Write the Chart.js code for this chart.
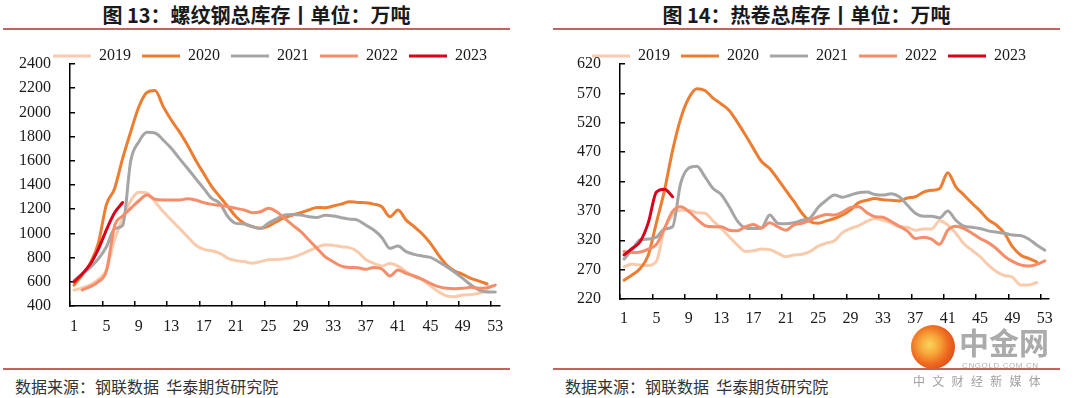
<!DOCTYPE html>
<html>
<head>
<meta charset="utf-8">
<script src="https://cdn.jsdelivr.net/npm/chart.js@4.4.1/dist/chart.umd.min.js"></script>
<style>
  body { margin: 0; width: 1080px; height: 398px; background: #fff; position: relative; overflow: hidden; font-family: "Noto Sans CJK SC", sans-serif; }
  .title { position: absolute; top: 3px; width: 507px; height: 24px; line-height: 24px; font-size: 20px; font-weight: bold; text-align: center; color: #1a1a1a; }
  .rule { position: absolute; width: 507px; height: 2px; background: #C5625E; }
  .source { position: absolute; top: 376px; font-size: 16px; line-height: 20px; color: #333; white-space: pre; }
  canvas { position: absolute; }
  .logo { position: absolute; left: 911px; top: 325px; width: 44px; height: 44px; border-radius: 50%; background: radial-gradient(circle at 42% 45%, #FBD45A 0%, #F6A63A 28%, #EE6A1F 55%, #C9301A 100%); }
  .wm1 { position: absolute; left: 959px; top: 322px; font-size: 30px; font-weight: bold; color: #ABABAB; line-height: 38px; }
  .wm2 { position: absolute; left: 962px; top: 361px; font-family: "Liberation Sans", sans-serif; font-size: 8px; letter-spacing: 0.6px; color: #B0B0B0; line-height: 10px; }
  .wm3 { position: absolute; left: 913px; top: 373px; font-size: 12px; letter-spacing: 7.3px; color: #A0A0A0; line-height: 16px; }
</style>
</head>
<body>
<div class="title" style="left:3px">图 13：螺纹钢总库存丨单位：万吨</div>
<div class="title" style="left:553px">图 14：热卷总库存丨单位：万吨</div>
<div class="rule" style="left:3px; top:27.5px"></div>
<div class="rule" style="left:553px; top:27.5px"></div>
<canvas id="rebar" width="540" height="300" style="left:0; top:36px"></canvas>
<canvas id="coil" width="518" height="293" style="left:550px; top:36px"></canvas>
<div class="rule" style="left:3px; top:368px"></div>
<div class="rule" style="left:553px; top:368px"></div>
<div class="source" style="left:15px">数据来源：钢联数据  华泰期货研究院</div>
<div class="source" style="left:565px">数据来源：钢联数据  华泰期货研究院</div>
<div class="logo"></div>
<div class="wm1">中金网</div>
<div class="wm2">CNGOLD.COM.CN</div>
<div class="wm3">中文财经新媒体</div>

<script>
// week numbers 1..53
const weeks = Array.from({ length: 53 }, (_, i) => String(i + 1));
const years = ["2019", "2020", "2021", "2022", "2023"];

// 螺纹钢总库存 (万吨)
const rebar2019 = [532, 550, 575, 620, 700, 950, 1120, 1270, 1340, 1335, 1262, 1180, 1111, 1042, 973, 904, 868, 857, 835, 794, 775, 767, 753, 767, 782, 785, 791, 802, 827, 857, 885, 907, 901, 890, 882, 849, 785, 752, 730, 752, 730, 684, 642, 615, 565, 518, 483, 477, 491, 494, 505, 527, null];
const rebar2020 = [573, 656, 753, 920, 1240, 1370, 1620, 1840, 2047, 2165, 2180, 2050, 1937, 1841, 1731, 1607, 1496, 1386, 1303, 1221, 1138, 1083, 1056, 1042, 1060, 1096, 1132, 1152, 1171, 1193, 1215, 1212, 1226, 1242, 1262, 1256, 1253, 1242, 1220, 1138, 1193, 1110, 1055, 995, 918, 821, 739, 689, 662, 628, 606, 582, null];
const rebar2021 = [610, 665, 720, 790, 890, 1040, 1065, 1600, 1758, 1835, 1830, 1772, 1703, 1620, 1538, 1455, 1372, 1290, 1248, 1138, 1083, 1078, 1056, 1042, 1085, 1120, 1152, 1157, 1152, 1138, 1132, 1149, 1143, 1130, 1118, 1110, 1069, 1028, 967, 876, 896, 849, 827, 813, 802, 766, 725, 678, 628, 573, 532, 516, 516];
const rebar2022 = [null, 532, 560, 601, 690, 1060, 1144, 1207, 1270, 1317, 1282, 1276, 1276, 1276, 1287, 1276, 1254, 1240, 1232, 1221, 1207, 1193, 1171, 1179, 1207, 1179, 1124, 1069, 1014, 945, 876, 807, 766, 730, 719, 717, 703, 719, 706, 648, 697, 670, 648, 620, 587, 560, 546, 543, 546, 554, 546, 551, 573];
const rebar2023 = [600, 665, 745, 870, 1030, 1170, 1255];

// 热卷总库存 (万吨)
const coil2019 = [275, 279, 278, 277, 284, 340, 363, 371, 371, 367, 366, 353, 340, 326, 312, 301, 302, 305, 304, 298, 292, 295, 296, 301, 310, 315, 319, 333, 340, 345, 352, 357, 354, 349, 343, 342, 337, 339, 339, 353, 346, 332, 314, 303, 292, 278, 267, 260, 257, 244, 244, 248, null];
const coil2020 = [252, 261, 272, 295, 350, 405, 473, 527, 562, 578, 575, 562, 552, 541, 521, 499, 476, 454, 442, 424, 405, 386, 366, 352, 349, 353, 357, 363, 372, 384, 388, 391, 389, 388, 387, 392, 394, 402, 405, 408, 435, 411, 397, 383, 370, 355, 346, 332, 309, 295, 289, 283, null];
const coil2021 = [288, 304, 321, 322, 325, 339, 343, 417, 443, 446, 428, 408, 398, 377, 353, 341, 340, 341, 363, 349, 348, 350, 354, 358, 376, 388, 397, 393, 397, 401, 402, 398, 397, 399, 394, 380, 366, 361, 361, 358, 370, 354, 344, 342, 340, 336, 334, 332, 329, 328, 322, 312, 303];
const coil2022 = [301, 299, 300, 305, 313, 340, 369, 377, 369, 356, 345, 343, 343, 337, 336, 343, 347, 341, 350, 343, 337, 346, 349, 354, 360, 364, 363, 368, 376, 377, 367, 360, 359, 352, 344, 336, 323, 325, 322, 313, 337, 344, 340, 332, 323, 316, 306, 293, 284, 278, 276, 279, 285];
const coil2023 = [295, 306, 318, 350, 402, 407, 394];

const colors = ["#F8CBAD", "#ED7D31", "#A5A5A5", "#F58D6B", "#D9001B"];
const tickFont = { family: '"Liberation Serif", serif', size: 16 };

function makeChart(id, series, yMin, yMax, yStep, rightPad, xPad) {
  return new Chart(document.getElementById(id), {
    type: "line",
    data: {
      labels: weeks,
      datasets: series.map((data, i) => ({
        label: years[i],
        data: data,
        borderColor: colors[i],
        backgroundColor: colors[i],
        borderWidth: 3,
        pointRadius: 0,
        tension: 0.4,
        cubicInterpolationMode: "monotone",
        borderCapStyle: "round",
        borderJoinStyle: "round",
        fill: false,
        order: series.length - 1 - i, // later years on top
      })),
    },
    options: {
      responsive: false,
      animation: false,
      devicePixelRatio: 1,
      layout: { padding: { top: 1, left: 0, right: 0, bottom: 0 } },
      plugins: {
        tooltip: { enabled: false },
        legend: {
          position: "top",
          maxHeight: 27,
          labels: {
            font: tickFont,
            color: "#1a1a1a",
            boxWidth: 38,
            boxHeight: 3,
            padding: 11,
            sort: (a, b) => a.datasetIndex - b.datasetIndex,
            generateLabels: (chart) =>
              Chart.defaults.plugins.legend.labels
                .generateLabels(chart)
                .map((l) => Object.assign(l, { fillStyle: l.strokeStyle, lineWidth: 0 })),
          },
        },
      },
      scales: {
        x: {
          type: "category",
          offset: true,
          grid: {
            offset: true,
            drawOnChartArea: false,
            tickLength: -5,
            lineWidth: 1.5,
            color: (c) => (c.index % 4 === 0 ? "#000" : "rgba(0,0,0,0)"),
          },
          border: { color: "#000", width: 1.5 },
          ticks: {
            autoSkip: false,
            maxRotation: 0,
            padding: xPad,
            font: tickFont,
            color: "#1a1a1a",
            callback: (v, i) => (i % 4 === 0 ? weeks[i] : ""),
          },
          afterFit: (s) => { s.height = 30; },
        },
        y: {
          min: yMin,
          max: yMax,
          grid: { drawOnChartArea: false, tickLength: -5, color: "#000", lineWidth: 1.5 },
          border: { color: "#000", width: 1.5 },
          ticks: { stepSize: yStep, padding: 24, font: tickFont, color: "#1a1a1a", callback: (v) => String(v) },
          afterFit: (s) => {
            s.width = 70;
            s.paddingTop = 8;
            s.paddingBottom = 8;
          },
        },
        // empty right-hand box so the plot ends where the original does
        y2: {
          position: "right",
          grid: { display: false },
          border: { display: false },
          ticks: { display: false },
          afterFit: (s) => {
            s.width = rightPad;
            s.paddingTop = 0;
            s.paddingBottom = 0;
          },
        },
      },
    },
  });
}

makeChart("rebar", [rebar2019, rebar2020, rebar2021, rebar2022, rebar2023], 400, 2400, 200, 40.7, 16);
makeChart("coil", [coil2019, coil2020, coil2021, coil2022, coil2023], 220, 620, 50, 18.7, 15);
</script>
</body>
</html>
